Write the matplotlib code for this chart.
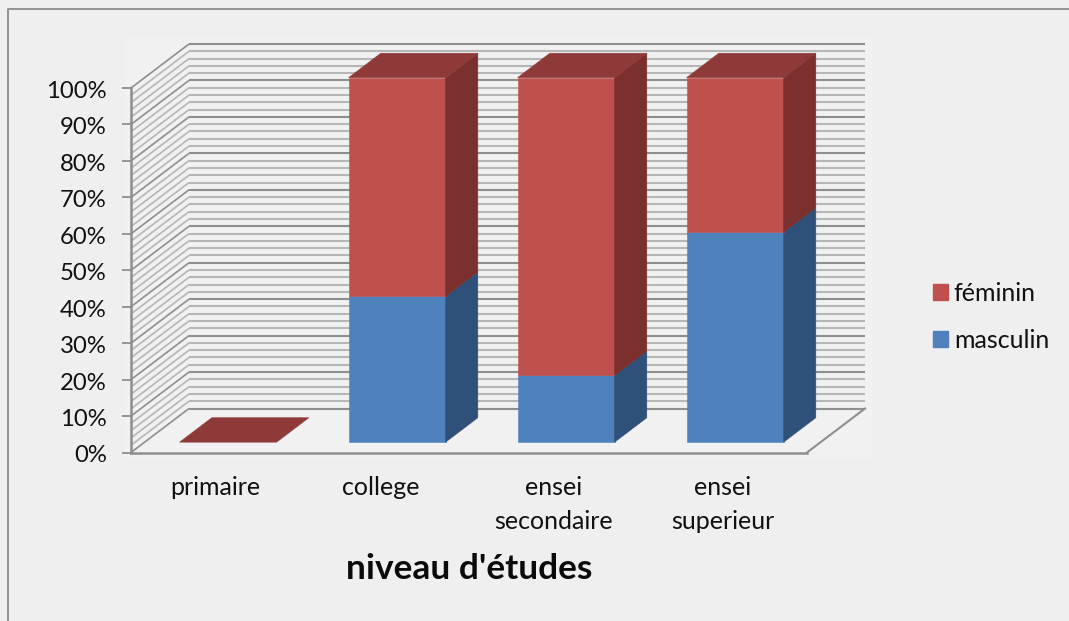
import matplotlib
matplotlib.use("Agg")
import matplotlib.pyplot as plt
from matplotlib.lines import Line2D
from matplotlib.patches import Patch, Rectangle
from matplotlib.transforms import ScaledTranslation

plt.rcParams['font.family'] = ['Lato', 'DejaVu Sans']

categories = ['primaire', 'college', 'ensei\nsecondaire', 'ensei\nsuperieur']
masculin = [0, 40, 18.3, 57.6]
feminin = [0, 60, 81.7, 42.4]
y_ticks = [0, 10, 20, 30, 40, 50, 60, 70, 80, 90, 100]
y_labels = ['0%', '10%', '20%', '30%', '40%', '50%', '60%', '70%', '80%', '90%', '100%']

BG = '#efefef'
WALL = '#f1f1f1'
MAJOR = '#8e8e8e'
MINOR = '#b6b6b6'

# oblique depth of the fake 3d box, in data units (x = categories, y = percent)
DEPTH_X = 58 / 169
DEPTH_Y = 44 / 3.645
BAR_WIDTH = 97 / 169
BAR_D0 = 0.235
BAR_D1 = 0.79
BAR_SHIFT = -0.006

# (front, side) colours for each series, dark red is the top cap
RED = ('#c0504d', '#7c302e')
BLUE = ('#4f81bd', '#2f5078')
RED_TOP = '#8e3a38'


def proj(x, y, d=0.0):
    """Push a point (x, y) back to depth d (0 = front, 1 = back wall)."""
    return x + d * DEPTH_X, y + d * DEPTH_Y


def face(ax, pts, color, z):
    xs, ys = zip(*pts)
    ax.fill(xs, ys, color=color, lw=0.4, clip_on=False, zorder=z)


def draw_segment(ax, x0, x1, y0, y1, colors, z):
    """Front and right side of one stacked box."""
    if y1 <= y0:
        return
    face(ax, [proj(x0, y0, BAR_D0), proj(x1, y0, BAR_D0),
              proj(x1, y1, BAR_D0), proj(x0, y1, BAR_D0)], colors[0], z)
    face(ax, [proj(x1, y0, BAR_D0), proj(x1, y0, BAR_D1),
              proj(x1, y1, BAR_D1), proj(x1, y1, BAR_D0)], colors[1], z)


fig = plt.figure(figsize=(10.69, 6.21), dpi=100, facecolor=BG)
ax = fig.add_axes([131 / 1069, (621 - 452.5) / 621, 676 / 1069, 364.5 / 621])
ax.set_facecolor('none')
ax.set_xlim(0, len(categories))
ax.set_ylim(0, 100)

# faint lighter plot area and outer chart border
fig.add_artist(Rectangle((125 / 1069, (621 - 458) / 621), 747 / 1069, 420 / 621,
                         transform=fig.transFigure, color=WALL, lw=0, zorder=-5))
fig.add_artist(Line2D([7.5 / 1069, 7.5 / 1069, 1], [0, 1 - 8.5 / 621, 1 - 8.5 / 621],
                      transform=fig.transFigure, color='#8c8c8c', lw=1.3))

# walls: gridlines every 2%, darker every 10%
x_end = len(categories)
for v in range(0, 101, 2):
    is_major = v % 10 == 0
    color = MAJOR if is_major else MINOR
    zo = 1.5 if is_major else 1
    bx0, by0 = proj(0, v, 1)
    bx1, by1 = proj(x_end, v, 1)
    ax.plot([bx0, bx1], [by0, by1], color=color, lw=1.5, clip_on=False, zorder=zo,
            solid_capstyle='butt')
    ax.plot([0, bx0], [v, by0], color=color, lw=1.2, clip_on=False, zorder=zo,
            solid_capstyle='butt')

# floor
fx, fy = proj(x_end, 0, 1)
ax.plot([x_end, fx], [0, fy], color=MAJOR, lw=1.5, clip_on=False, zorder=2)

# stacked boxes
for i, cat in enumerate(categories):
    x0 = i + 0.5 - BAR_WIDTH / 2 + BAR_SHIFT
    x1 = x0 + BAR_WIDTH
    draw_segment(ax, x0, x1, 0, masculin[i], BLUE, 3)
    draw_segment(ax, x0, x1, masculin[i], masculin[i] + feminin[i], RED, 3)
    top = masculin[i] + feminin[i]
    face(ax, [proj(x0, top, BAR_D0), proj(x1, top, BAR_D0),
              proj(x1, top, BAR_D1), proj(x0, top, BAR_D1)], RED_TOP, 4)

ax.spines['top'].set_visible(False)
ax.spines['right'].set_visible(False)
for side in ('left', 'bottom'):
    ax.spines[side].set_color(MAJOR)
    ax.spines[side].set_linewidth(1.8)
    ax.spines[side].set_zorder(2)

ax.set_yticks(y_ticks)
ax.set_yticklabels(y_labels, fontsize=17.2, color='#111111')
ax.tick_params(axis='y', length=6.5, width=1.3, color=MAJOR, pad=11)
# nudge the labels down 1.5px, Lato sits higher than the original font
for label in ax.get_yticklabels():
    label.set_transform(label.get_transform() + ScaledTranslation(0, -1.5 / 100, fig.dpi_scale_trans))

# college sits a little left of its slot in the original
ax.set_xticks([0.5, 1.476, 2.5, 3.5])
ax.set_xticklabels(categories, fontsize=18, color='#111111', linespacing=1.55, va='top')
ax.tick_params(axis='x', length=0, pad=17)

ax.set_xlabel("niveau d'études", fontsize=25.4, fontweight='bold', color='#0a0a0a')
ax.xaxis.set_label_coords(0.501, -0.319)
ax.xaxis.label.set_va('center')

handles = [Patch(color=RED[0], label='féminin'), Patch(color=BLUE[0], label='masculin')]
ax.legend(handles=handles, loc='center left', bbox_to_anchor=(925 / 1069, 1 - 317 / 621),
          bbox_transform=fig.transFigure, frameon=False, fontsize=18, labelspacing=0.95,
          handlelength=0.6, handleheight=0.6, handletextpad=0.25, borderpad=0, borderaxespad=0.3,
          labelcolor='#111111')

fig.savefig('out.png', dpi=100, facecolor=BG)
